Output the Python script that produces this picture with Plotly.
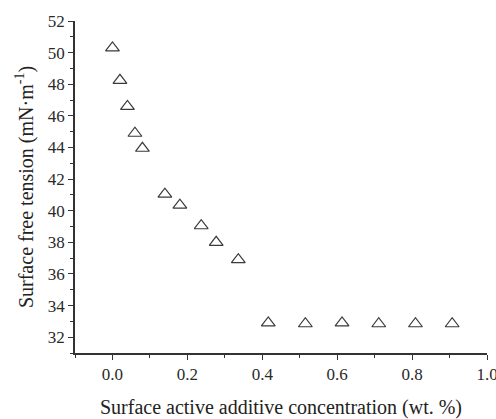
import plotly.graph_objects as go

concentration = [0.0, 0.02, 0.04, 0.06, 0.08, 0.14, 0.18, 0.237, 0.277, 0.336,
                 0.416, 0.515, 0.613, 0.711, 0.809, 0.907]
tension = [50.3, 48.25, 46.6, 44.9, 43.95, 41.05, 40.35, 39.05, 38.0, 36.9,
           32.9, 32.85, 32.9, 32.85, 32.85, 32.85]

x_title = "Surface active additive concentration (wt. %)"
y_title = "Surface free tension (mN·m<sup>-1</sup>)"

font_family = "Liberation Serif, Times New Roman, serif"

fig = go.Figure()
fig.add_trace(go.Scatter(
    x=concentration, y=tension, mode="markers",
    marker=dict(symbol="triangle-up-open", size=12, color="#3a3a3a",
                line=dict(width=1.2, color="#3a3a3a")),
    showlegend=False,
))

axis_common = dict(
    showline=True, linecolor="#333", linewidth=1.5,
    ticks="outside", ticklen=5, tickwidth=1.2, tickcolor="#333",
    showgrid=False, zeroline=False, mirror=False, automargin=False,
    ticklabeloverflow="allow",
    tickfont=dict(family=font_family, size=17, color="#2a2a2a"),
)

fig.update_xaxes(
    range=[-0.1, 1.0], dtick=0.2, tick0=0, tickformat=".1f",
    minor=dict(ticks="outside", ticklen=3, dtick=0.1, tick0=0, tickcolor="#333", tickwidth=1),
    title=dict(text=x_title, font=dict(family=font_family, size=20, color="#222"), standoff=23),
    **axis_common,
)
fig.update_yaxes(
    range=[31, 52], dtick=2, tick0=32,
    minor=dict(ticks="outside", ticklen=3, dtick=1, tick0=32, tickcolor="#333", tickwidth=1),
    title=dict(text=y_title, font=dict(family=font_family, size=20, color="#222"), standoff=9),
    **axis_common,
)

fig.update_layout(
    width=496, height=419,
    margin=dict(l=75, r=9, t=21, b=66),
    paper_bgcolor="white", plot_bgcolor="white",
    font=dict(family=font_family),
)

fig.write_html("out.html")
